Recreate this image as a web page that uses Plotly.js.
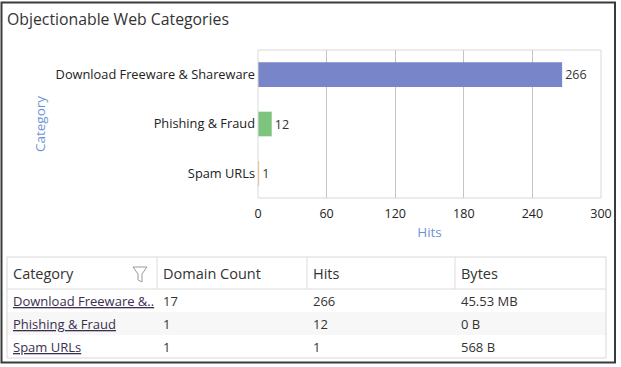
<!DOCTYPE html>
<html>
<head>
<meta charset="utf-8">
<script src="https://cdn.plot.ly/plotly-3.0.1.min.js"></script>
<style>
  html, body { margin: 0; padding: 0; background: #fff; }
  #chart { width: 621px; height: 367px; }
</style>
</head>
<body>
<div id="chart"></div>
<script>
// ---- data ----
const categories = ["Download Freeware & Shareware", "Phishing & Fraud", "Spam URLs"];
const tableCategoryLabels = ["Download Freeware &..", "Phishing & Fraud", "Spam URLs"];
const hits = [266, 12, 1];
const domainCounts = [17, 1, 1];
const bytesLabels = ["45.53 MB", "0 B", "568 B"];
const barColors = ["#7886c9", "#7ec47e", "#f2b56a"];
const tableHeaders = ["Category", "Domain Count", "Hits", "Bytes"];
const xTicks = [0, 60, 120, 180, 240, 300];

const W = 621, H = 367;
const px = x => x / W;
const py = y => 1 - y / H;

const FONT = "'Open Sans', 'Noto Sans', sans-serif";

const barTrace = {
  type: "bar",
  orientation: "h",
  y: categories,
  x: hits,
  marker: { color: barColors, line: { width: 0 } },
  text: hits.map(String),
  textposition: "outside",
  cliponaxis: false,
  textfont: { family: FONT, size: 12.5, color: "#333" },
  width: 0.5,
  hoverinfo: "x+y"
};

// ---- table geometry (pixels) ----
const tbl = { left: 7, right: 606, top: 257, headerBottom: 289, rowH: 23 };
const colLeft = [7, 157, 307, 455];
const textPad = 4;

const shapes = [];
const annotations = [];

// row backgrounds
const rowFill = ["#ffffff", "#f7f7f7", "#ffffff"];
categories.forEach((c, i) => {
  const y0 = tbl.headerBottom + i * tbl.rowH, y1 = y0 + tbl.rowH;
  shapes.push({ type: "rect", xref: "paper", yref: "paper",
    x0: px(tbl.left), x1: px(tbl.right), y0: py(y1), y1: py(y0),
    line: { width: 0 }, fillcolor: rowFill[i], layer: "below" });
});
const tblBottom = tbl.headerBottom + categories.length * tbl.rowH;

// header texts
tableHeaders.forEach((h, j) => {
  annotations.push({ xref: "paper", yref: "paper", x: px(colLeft[j] + textPad), y: py((tbl.top + tbl.headerBottom) / 2),
    xanchor: "left", yanchor: "middle", showarrow: false, text: h,
    font: { family: FONT, size: 14.5, color: "#333" } });
});
// header column dividers
colLeft.slice(1).forEach(x => {
  shapes.push({ type: "line", xref: "paper", yref: "paper", x0: px(x), x1: px(x), y0: py(tbl.headerBottom), y1: py(tbl.top),
    line: { color: "#dcdcdc", width: 1 } });
});
// header bottom line
shapes.push({ type: "line", xref: "paper", yref: "paper", x0: px(tbl.left), x1: px(tbl.right),
  y0: py(tbl.headerBottom), y1: py(tbl.headerBottom), line: { color: "#dcdcdc", width: 1 } });

// body cells
const columns = [
  tableCategoryLabels.map(s => "<u>" + s + "</u>"),
  domainCounts.map(String),
  hits.map(String),
  bytesLabels
];
columns.forEach((col, j) => {
  col.forEach((val, i) => {
    annotations.push({ xref: "paper", yref: "paper", x: px(colLeft[j] + textPad),
      y: py(tbl.headerBottom + i * tbl.rowH + tbl.rowH / 2),
      xanchor: "left", yanchor: "middle", showarrow: false, text: val,
      font: { family: FONT, size: 13, color: j === 0 ? "#3b2f4f" : "#333" } });
  });
});

// table outer border
shapes.push({ type: "rect", xref: "paper", yref: "paper", x0: px(tbl.left), x1: px(tbl.right),
  y0: py(tblBottom), y1: py(tbl.top), line: { color: "#d8d8d8", width: 1 } });

function pathFromPx(pts) {
  return "M" + pts.map(p => px(p[0]).toFixed(5) + "," + py(p[1]).toFixed(5)).join(" L") + " Z";
}
// filter funnel icon
shapes.push({ type: "path", xref: "paper", yref: "paper",
  path: pathFromPx([[133, 267], [147, 267], [142, 274], [142, 282], [138, 280], [138, 274]]),
  line: { color: "#9a9a9a", width: 1 }, fillcolor: "rgba(0,0,0,0)" });

// plot frame
shapes.push({ type: "rect", xref: "x domain", yref: "y domain", x0: 0, x1: 1, y0: 0, y1: 1,
  line: { color: "#d8d8d8", width: 1 }, layer: "above" });
// outer frame
shapes.push({ type: "rect", xref: "paper", yref: "paper", x0: px(1.5), x1: px(615), y0: py(362.5), y1: py(2.5),
  line: { color: "#3a3a3a", width: 2 }, layer: "above" });

const layout = {
  width: W, height: H,
  margin: { l: 0, r: 0, t: 0, b: 0 },
  paper_bgcolor: "#ffffff",
  plot_bgcolor: "#ffffff",
  showlegend: false,
  font: { family: FONT, color: "#333" },
  xaxis: {
    domain: [px(258), px(601)],
    range: [0, 300],
    tickvals: xTicks,
    ticktext: xTicks.map(String),
    showgrid: true,
    gridcolor: "#c4c4c4",
    gridwidth: 1,
    zeroline: false,
    showline: false,
    ticks: "",
    ticklabelstandoff: 6,
    tickfont: { family: FONT, size: 12.5, color: "#222" },
    title: { text: "Hits", font: { family: FONT, size: 13.5, color: "#6b95d8" }, standoff: 7 },
    automargin: false,
    fixedrange: true
  },
  yaxis: {
    domain: [py(198), py(50)],
    autorange: "reversed",
    showgrid: false,
    zeroline: false,
    showline: false,
    ticks: "",
    ticklabelstandoff: 2,
    tickfont: { family: FONT, size: 12.8, color: "#222" },
    title: { text: "Category", font: { family: FONT, size: 13.5, color: "#6b95d8" }, standoff: 6 },
    automargin: false,
    fixedrange: true
  },
  bargap: 0.5,
  title: {
    text: "Objectionable Web Categories",
    x: px(7), xanchor: "left",
    y: py(19), yanchor: "middle",
    xref: "paper", yref: "paper",
    font: { family: FONT, size: 15.8, color: "#333" }
  },
  shapes: shapes,
  annotations: annotations
};

Plotly.newPlot("chart", [barTrace], layout, { displayModeBar: false, staticPlot: true });
</script>
</body>
</html>
